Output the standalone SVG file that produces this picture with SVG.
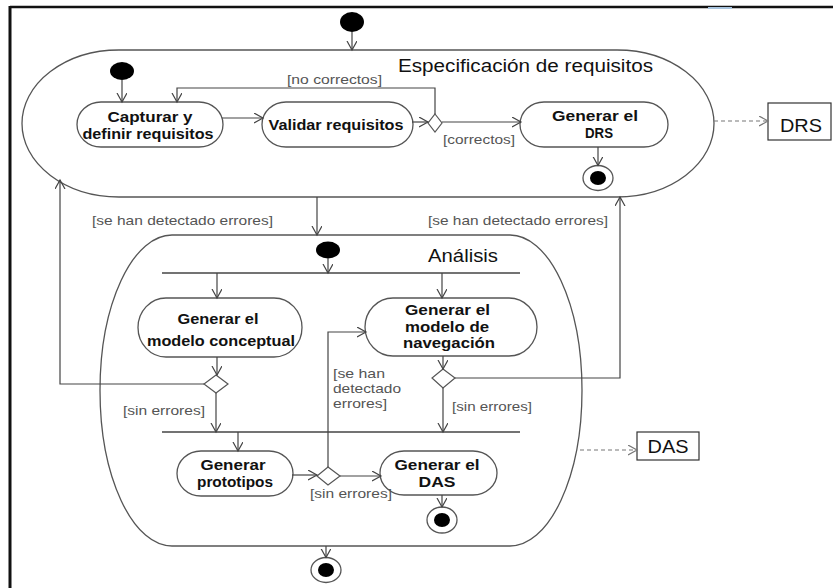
<svg xmlns="http://www.w3.org/2000/svg" width="833" height="588" viewBox="0 0 833 588">
<defs>
<marker id="arr" markerUnits="userSpaceOnUse" markerWidth="12" markerHeight="12" refX="9" refY="5" orient="auto">
<path d="M0,0 L9,5 L0,10" fill="none" stroke="#444" stroke-width="1.2"/>
</marker>
<marker id="arrd" markerUnits="userSpaceOnUse" markerWidth="12" markerHeight="12" refX="9" refY="5" orient="auto">
<path d="M0,0 L9,5 L0,10" fill="none" stroke="#777" stroke-width="1.2"/>
</marker>
</defs>
<style>
.frame{stroke:#111;fill:none}
.cont{fill:none;stroke:#555;stroke-width:1.3}
.act{fill:#fff;stroke:#555;stroke-width:1.3}
.init{fill:#000}
.fin{fill:#fff;stroke:#555;stroke-width:1.3}
.dec{fill:#fff;stroke:#555;stroke-width:1.2}
.bar{stroke:#444;stroke-width:1.4;fill:none}
.ln{fill:none;stroke:#444;stroke-width:1.2;marker-end:url(#arr)}
.dash{fill:none;stroke:#777;stroke-width:1.2;stroke-dasharray:4 3;marker-end:url(#arrd)}
.obj{fill:#fff;stroke:#333;stroke-width:1.2}
.t{font-family:"Liberation Sans",Arial,sans-serif;font-weight:bold;font-size:15.5px;fill:#111;text-anchor:middle}
.tl{font-family:"Liberation Sans",Arial,sans-serif;font-weight:bold;font-size:15.5px;fill:#111}
.g{font-family:"Liberation Sans",Arial,sans-serif;font-size:13px;fill:#555}
.h{font-family:"Liberation Sans",Arial,sans-serif;font-size:17.5px;fill:#111}
.o{font-family:"Liberation Sans",Arial,sans-serif;font-size:19px;fill:#111;text-anchor:middle}
</style>
<rect width="833" height="588" fill="#fff"/>
<path class="frame" d="M10,7 H833" stroke-width="2.5"/>
<path class="frame" d="M10,6 V588" stroke-width="3"/>
<rect x="708" y="7" width="24" height="2" fill="#a8c4de"/>

<g id="especificacion">
<rect class="cont" x="22" y="50" width="692" height="147" rx="97" ry="73.5"/>
<text class="h" x="398" y="72" textLength="255" lengthAdjust="spacingAndGlyphs">Especificación de requisitos</text>
</g>
<g id="analisis">
<rect class="cont" x="100" y="235" width="482" height="311" rx="72" ry="155.5"/>
<text class="h" x="428" y="262" textLength="70" lengthAdjust="spacingAndGlyphs">Análisis</text>
</g>

<g id="inicio"><ellipse class="init" cx="352" cy="22" rx="12" ry="10"/></g>
<g id="inicio-esp"><ellipse class="init" cx="122" cy="71" rx="12" ry="9"/></g>
<g id="capturar">
<rect class="act" x="77" y="102" width="146" height="45" rx="24" ry="22.5"/>
<text class="t" x="150" y="122" textLength="85" lengthAdjust="spacingAndGlyphs">Capturar y</text>
<text class="t" x="148" y="139" textLength="131" lengthAdjust="spacingAndGlyphs">definir requisitos</text>
</g>
<g id="validar">
<rect class="act" x="262" y="102" width="151" height="45" rx="24" ry="22.5"/>
<text class="t" x="336" y="130" textLength="135" lengthAdjust="spacingAndGlyphs">Validar requisitos</text>
</g>
<g id="decision-validar"><path class="dec" d="M435,114 L442,123 L435,132 L428,123 Z"/></g>
<g id="generar-drs">
<rect class="act" x="520" y="102" width="148" height="45" rx="24" ry="22.5"/>
<text class="t" x="595" y="121" textLength="86" lengthAdjust="spacingAndGlyphs">Generar el</text>
<text class="t" x="599" y="138" textLength="28" lengthAdjust="spacingAndGlyphs">DRS</text>
</g>
<g id="fin-esp">
<ellipse class="fin" cx="598" cy="178" rx="15" ry="12.5"/>
<ellipse class="init" cx="598" cy="178" rx="8" ry="7"/>
</g>
<g id="drs">
<rect class="obj" x="768" y="103" width="63" height="37"/>
<text class="o" x="801" y="132" font-size="20" textLength="42" lengthAdjust="spacingAndGlyphs">DRS</text>
</g>

<g id="inicio-ana"><ellipse class="init" cx="328" cy="250" rx="12" ry="8.5"/></g>
<g id="fork"><path class="bar" d="M162,273 H520"/></g>
<g id="modelo-conceptual">
<rect class="act" x="138" y="298" width="164" height="59" rx="28" ry="29.5"/>
<text class="t" x="218" y="324" textLength="81" lengthAdjust="spacingAndGlyphs">Generar el</text>
<text class="t" x="221" y="346" textLength="148" lengthAdjust="spacingAndGlyphs">modelo conceptual</text>
</g>
<g id="modelo-navegacion">
<rect class="act" x="365" y="298" width="172" height="58" rx="28" ry="29"/>
<text class="tl" x="405" y="315" textLength="85" lengthAdjust="spacingAndGlyphs">Generar el</text>
<text class="tl" x="405" y="332" textLength="84" lengthAdjust="spacingAndGlyphs">modelo de</text>
<text class="tl" x="403" y="348" textLength="92" lengthAdjust="spacingAndGlyphs">navegación</text>
</g>
<g id="decision-conceptual"><path class="dec" d="M216,375 L228,384 L216,393 L204,384 Z"/></g>
<g id="decision-navegacion"><path class="dec" d="M443,369 L455,378 L443,388 L432,378 Z"/></g>
<g id="join"><path class="bar" d="M162,432 H520"/></g>
<g id="prototipos">
<rect class="act" x="177" y="451" width="116" height="45" rx="24" ry="22.5"/>
<text class="t" x="233" y="470" textLength="65" lengthAdjust="spacingAndGlyphs">Generar</text>
<text class="t" x="235" y="487" textLength="76" lengthAdjust="spacingAndGlyphs">prototipos</text>
</g>
<g id="decision-prototipos"><path class="dec" d="M328,467 L340,476 L328,485 L317,476 Z"/></g>
<g id="generar-das">
<rect class="act" x="380" y="451" width="117" height="44" rx="24" ry="22"/>
<text class="t" x="437" y="470" textLength="85" lengthAdjust="spacingAndGlyphs">Generar el</text>
<text class="t" x="437" y="487" textLength="37" lengthAdjust="spacingAndGlyphs">DAS</text>
</g>
<g id="fin-das">
<ellipse class="fin" cx="442" cy="520" rx="15" ry="13"/>
<ellipse class="init" cx="442" cy="520" rx="8" ry="7"/>
</g>
<g id="fin-ana">
<ellipse class="fin" cx="326" cy="570" rx="15" ry="12.5"/>
<ellipse class="init" cx="326" cy="570" rx="8" ry="7"/>
</g>
<g id="das">
<rect class="obj" x="637" y="432" width="62" height="28"/>
<text class="o" x="668" y="453" textLength="41" lengthAdjust="spacingAndGlyphs">DAS</text>
</g>

<g id="connectors">
<path class="ln" d="M352,32 V50"/>
<path class="ln" d="M122,80 V102"/>
<path class="ln" d="M222,118 H263"/>
<path class="ln" d="M412,122 H428"/>
<path class="ln" d="M435,114 V88 H177 V102"/>
<path class="ln" d="M442,122 H521"/>
<path class="ln" d="M598,147 V165.5"/>
<path class="dash" d="M714,121 H768"/>
<path class="ln" d="M317,197 V235"/>
<path class="ln" d="M328,258 V273"/>
<path class="ln" d="M217,273 V298"/>
<path class="ln" d="M442,273 V298"/>
<path class="ln" d="M217,357 V375"/>
<path class="ln" d="M204,384 H60 V180"/>
<path class="ln" d="M216,393 V432"/>
<path class="ln" d="M443,356 V369"/>
<path class="ln" d="M455,378 H620 V197"/>
<path class="ln" d="M443,388 V432"/>
<path class="ln" d="M238,432 V451"/>
<path class="ln" d="M292,475 H317"/>
<path class="ln" d="M340,476 H381"/>
<path class="ln" d="M328,467 V332 H366"/>
<path class="ln" d="M442,495 V507"/>
<path class="ln" d="M326,546 V557.5"/>
<path class="dash" d="M580,450 H637"/>
<text class="g" x="287" y="84" textLength="95" lengthAdjust="spacingAndGlyphs">[no correctos]</text>
<text class="g" x="443" y="144" textLength="72" lengthAdjust="spacingAndGlyphs">[correctos]</text>
<text class="g" x="92" y="225" textLength="181" lengthAdjust="spacingAndGlyphs">[se han detectado errores]</text>
<text class="g" x="428" y="225" textLength="180" lengthAdjust="spacingAndGlyphs">[se han detectado errores]</text>
<text class="g" x="333" y="378" textLength="52" lengthAdjust="spacingAndGlyphs">[se han</text>
<text class="g" x="333" y="393" textLength="68" lengthAdjust="spacingAndGlyphs">detectado</text>
<text class="g" x="333" y="408" textLength="54" lengthAdjust="spacingAndGlyphs">errores]</text>
<text class="g" x="123" y="415" textLength="82" lengthAdjust="spacingAndGlyphs">[sin errores]</text>
<text class="g" x="452" y="411" textLength="80" lengthAdjust="spacingAndGlyphs">[sin errores]</text>
<text class="g" x="310" y="498" textLength="82" lengthAdjust="spacingAndGlyphs">[sin errores]</text>
</g>
</svg>
